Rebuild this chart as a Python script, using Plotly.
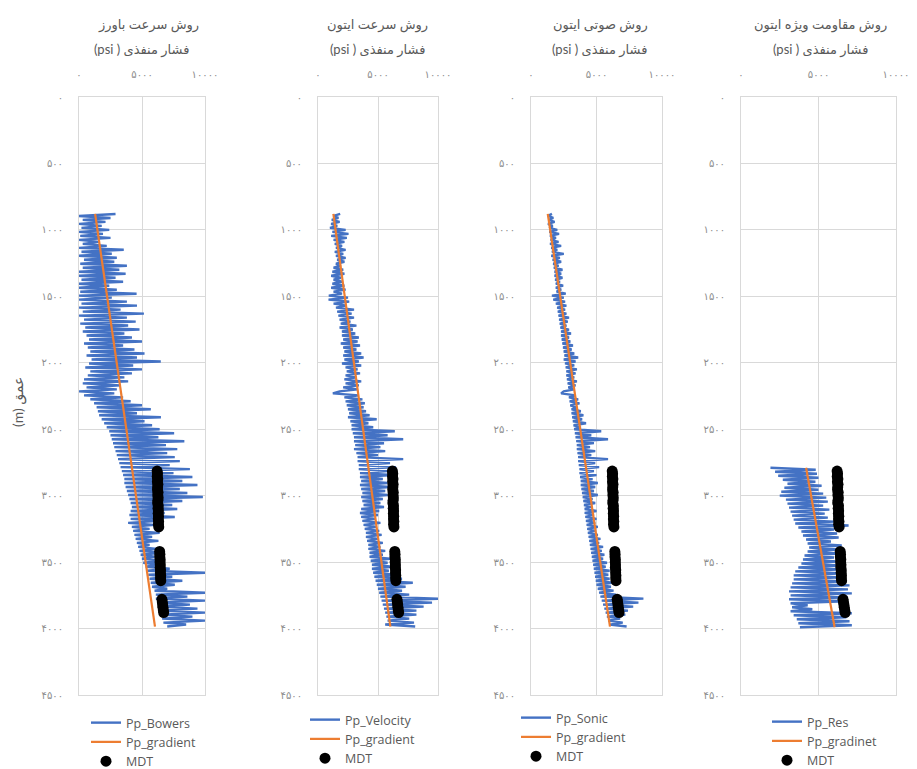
import plotly.graph_objects as go

# ---- depth sampling of the computed pore-pressure logs (m) ----
depth_log = [
    880, 895, 910, 925, 940, 955, 970, 985, 1000, 1015,
    1030, 1045, 1060, 1075, 1090, 1105, 1120, 1135, 1150, 1165,
    1180, 1195, 1210, 1225, 1240, 1255, 1270, 1285, 1300, 1315,
    1330, 1345, 1360, 1375, 1390, 1405, 1420, 1435, 1450, 1465,
    1480, 1495, 1510, 1525, 1540, 1555, 1570, 1585, 1600, 1615,
    1630, 1645, 1660, 1675, 1690, 1705, 1720, 1735, 1750, 1765,
    1780, 1795, 1810, 1825, 1840, 1855, 1870, 1885, 1900, 1915,
    1930, 1945, 1960, 1975, 1990, 2005, 2020, 2035, 2050, 2065,
    2080, 2095, 2110, 2125, 2140, 2155, 2170, 2185, 2200, 2215,
    2230, 2245, 2260, 2275, 2290, 2305, 2320, 2335, 2350, 2365,
    2380, 2395, 2410, 2425, 2440, 2455, 2470, 2485, 2500, 2515,
    2530, 2545, 2560, 2575, 2590, 2605, 2620, 2635, 2650, 2665,
    2680, 2695, 2710, 2725, 2740, 2755, 2770, 2785, 2800, 2815,
    2830, 2845, 2860, 2875, 2890, 2905, 2920, 2935, 2950, 2965,
    2980, 2995, 3010, 3025, 3040, 3055, 3070, 3085, 3100, 3115,
    3130, 3145, 3160, 3175, 3190, 3205, 3220, 3235, 3250, 3265,
    3280, 3295, 3310, 3325, 3340, 3355, 3370, 3385, 3400, 3415,
    3430, 3445, 3460, 3475, 3490, 3505, 3520, 3535, 3550, 3565,
    3580, 3595, 3610, 3625, 3640, 3655, 3670, 3685, 3700, 3715,
    3730, 3745, 3760, 3775, 3790, 3805, 3820, 3835, 3850, 3865,
    3880, 3895, 3910, 3925, 3940, 3955, 3970, 3985,
]

# ---- pore pressure (psi), Bowers velocity method ----
pp_bowers = [
    2900, 0, 2500, 300, 2100, 0, 1800, 200, 2400, 0,
    1900, 100, 2500, 0, 1600, 300, 2200, 0, 3550, 200,
    2600, 0, 3000, 400, 2800, 100, 3800, 300, 3200, 0,
    3700, 0, 2900, 200, 3500, 0, 2400, 0, 3000, 100,
    4570, 0, 2600, 0, 3800, 200, 4600, 0, 3300, 300,
    5150, 0, 3800, 400, 4500, 100, 3900, 500, 4800, 300,
    3600, 600, 4200, 800, 5000, 400, 3500, 700, 4400, 900,
    5200, 600, 4600, 1000, 6490, 800, 4300, 500, 5000, 900,
    4200, 700, 3600, 400, 3900, 300, 3300, 600, 3000, 0,
    2800, 400, 3500, 900, 4100, 1200, 5000, 1400, 5700, 1500,
    4600, 1600, 6500, 1800, 5200, 2000, 5800, 2200, 6400, 2400,
    7550, 2500, 6300, 2600, 8360, 2700, 6900, 2800, 7800, 2900,
    7000, 3000, 7600, 3100, 8000, 3200, 7200, 3300, 8800, 3400,
    7500, 3500, 9000, 3600, 8200, 3600, 9400, 3700, 8000, 3800,
    8600, 3900, 9830, 4000, 8200, 4100, 7400, 4200, 7800, 4100,
    6800, 4000, 7600, 4100, 6400, 3900, 6000, 4200, 5600, 4300,
    6400, 4400, 5800, 4500, 6300, 4600, 5600, 4700, 6200, 4800,
    6500, 4900, 6000, 5000, 6800, 5100, 6300, 5300, 7200, 5400,
    10000, 5500, 7400, 5600, 8200, 5700, 7600, 5800, 7000, 6000,
    10000, 6100, 8600, 6100, 10000, 6200, 8800, 6300, 9400, 6400,
    10000, 6500, 9000, 6600, 10000, 6700, 8500, 7000,
]

# ---- pore pressure (psi), Eaton velocity method ----
pp_velocity = [
    1850, 1300, 1700, 1150, 1800, 1100, 1600, 1000, 2300, 1200,
    2540, 1100, 2400, 1300, 2200, 1400, 2000, 1500, 2300, 1400,
    2100, 1500, 2300, 1600, 2200, 1500, 1900, 1300, 2100, 1200,
    2200, 1100, 1900, 1300, 2000, 1200, 2200, 1100, 2300, 1300,
    2000, 900, 2500, 880, 2600, 1300, 2400, 1500, 3000, 1600,
    2800, 1700, 3000, 1800, 2700, 1900, 3200, 1800, 2900, 2000,
    3100, 2000, 3400, 2100, 3300, 1900, 3500, 2100, 3200, 2200,
    3600, 2100, 3800, 2200, 3400, 2000, 3600, 2300, 3300, 2400,
    3500, 2300, 3200, 2200, 3600, 2300, 3400, 2100, 3300, 1800,
    1240, 3400, 2200, 3700, 2300, 3900, 2400, 3800, 2500, 4000,
    2600, 4300, 2500, 4890, 2700, 4200, 2800, 4600, 2800, 6400,
    2900, 5800, 3000, 7100, 3000, 5500, 3100, 5200, 3000, 5600,
    3200, 5000, 3300, 7100, 3300, 6000, 3400, 6500, 3400, 5800,
    3500, 6200, 3500, 5400, 3600, 5800, 3500, 6000, 3600, 5600,
    3700, 5800, 3600, 5400, 3700, 5200, 3800, 5500, 3600, 5100,
    3500, 5000, 3600, 4800, 3700, 5200, 3800, 4900, 3900, 5100,
    4000, 5300, 4000, 5000, 4100, 5400, 4200, 5200, 4200, 5600,
    4300, 5400, 4300, 6000, 4400, 5800, 4500, 6200, 4500, 5900,
    4600, 6500, 4700, 7000, 4800, 7900, 4900, 7300, 5000, 7000,
    5100, 7600, 5200, 10100, 5300, 9500, 5400, 8800, 5500, 8200,
    5600, 8200, 5700, 7600, 5800, 8000, 5600, 8100,
]

# ---- pore pressure (psi), Eaton sonic method ----
pp_sonic = [
    1600, 1290, 1700, 1350, 1800, 1300, 1650, 1400, 2000, 1400,
    2140, 1450, 1900, 1500, 2100, 1450, 2300, 1550, 2000, 1600,
    2500, 1550, 2200, 1650, 2300, 1700, 2100, 1750, 2400, 1800,
    2300, 1800, 2400, 1850, 2200, 1900, 2450, 1900, 2300, 1950,
    2650, 1600, 2500, 1700, 2600, 1900, 2700, 2000, 2600, 2050,
    2700, 2100, 2900, 2150, 2800, 2200, 2700, 2250, 2900, 2300,
    3050, 2300, 2900, 2350, 3000, 2400, 3200, 2450, 3100, 2500,
    3300, 2550, 3600, 2500, 3400, 2600, 3300, 2650, 3500, 2700,
    3400, 2700, 3300, 2750, 3500, 2800, 3400, 2850, 3300, 2500,
    2300, 3400, 2900, 3600, 2950, 3700, 3000, 3500, 3100, 3800,
    3100, 4000, 3150, 3900, 3200, 4200, 3250, 3800, 3300, 5360,
    3350, 4600, 3400, 5880, 3450, 4800, 3500, 4500, 3500, 4900,
    3550, 4600, 3600, 5880, 3600, 4900, 3650, 5200, 3700, 4800,
    3700, 5000, 3750, 4700, 3800, 5100, 3800, 4900, 3850, 4800,
    3900, 5100, 3950, 4700, 4000, 4900, 4050, 4600, 4100, 5000,
    4100, 4800, 4150, 5000, 4200, 4900, 4250, 5100, 4300, 4900,
    4350, 5100, 4400, 5300, 4450, 5200, 4500, 5500, 4550, 5400,
    4600, 5600, 4650, 5500, 4700, 5800, 4750, 5700, 4800, 6000,
    4850, 5900, 4900, 6000, 4950, 6200, 5000, 6100, 5100, 6300,
    5200, 6500, 5300, 8580, 5400, 8200, 5500, 7800, 5600, 7400,
    5700, 7200, 5800, 6800, 5900, 7000, 6000, 7300,
]

# ---- resistivity log interval (m) and Eaton resistivity pore pressure (psi) ----
depth_res = [
    2790, 2805, 2820, 2835, 2850, 2865, 2880, 2895, 2910, 2925,
    2940, 2955, 2970, 2985, 3000, 3015, 3030, 3045, 3060, 3075,
    3090, 3105, 3120, 3135, 3150, 3165, 3180, 3195, 3210, 3225,
    3240, 3255, 3270, 3285, 3300, 3315, 3330, 3345, 3360, 3375,
    3390, 3405, 3420, 3435, 3450, 3465, 3480, 3495, 3510, 3525,
    3540, 3555, 3570, 3585, 3600, 3615, 3630, 3645, 3660, 3675,
    3690, 3705, 3720, 3735, 3750, 3765, 3780, 3795, 3810, 3825,
    3840, 3855, 3870, 3885, 3900, 3915, 3930, 3945, 3960, 3975,
    3990,
]
pp_res = [
    1900, 4820, 2200, 4900, 2400, 5000, 2700, 4800, 3000, 5200,
    2800, 5000, 2600, 5300, 2500, 5500, 2900, 5600, 3000, 5300,
    3100, 5700, 3200, 5400, 3300, 5600, 3400, 6000, 3500, 6940,
    3700, 6000, 3900, 6200, 4000, 6300, 4200, 5800, 4300, 6500,
    4400, 6200, 4300, 6300, 4100, 6000, 4000, 6200, 3900, 6300,
    3700, 6600, 3500, 6700, 3400, 6500, 3400, 6800, 3300, 7000,
    3200, 6900, 3100, 7150, 3200, 6900, 3100, 6700, 3200, 4300,
    3300, 4600, 3200, 7150, 3400, 6800, 3600, 7000, 3700, 7150,
    3800,
]

# ---- pressure gradient line ----
grad_depth = [880, 3985]
grad_pressure = [1280, 6030]
grad_res_depth = [2790, 3990]
grad_res_pressure = [4200, 6040]

# ---- MDT measured pressures ----
mdt_depth = [
    2815, 2835, 2855, 2875, 2895, 2915, 2935, 2955, 2975, 2995, 3015,
    3035, 3055, 3075, 3095, 3115, 3135, 3155, 3175, 3195, 3215, 3235,
    3420, 3440, 3460, 3480, 3500, 3520, 3540, 3560, 3580, 3600, 3620, 3640,
    3780, 3800, 3820, 3840, 3860, 3880,
]
mdt_pressure = [
    6200, 6230, 6210, 6250, 6220, 6260, 6240, 6230, 6270, 6250, 6280,
    6260, 6240, 6290, 6270, 6300, 6280, 6310, 6290, 6320, 6300, 6330,
    6400, 6420, 6410, 6440, 6430, 6450, 6440, 6470, 6460, 6480, 6470, 6490,
    6580, 6610, 6640, 6660, 6690, 6720,
]

# ---- axis ticks ----
depth_ticks = [0, 500, 1000, 1500, 2000, 2500, 3000, 3500, 4000, 4500]
depth_tick_text = ["۰", "۵۰۰", "۱۰۰۰", "۱۵۰۰", "۲۰۰۰", "۲۵۰۰", "۳۰۰۰", "۳۵۰۰", "۴۰۰۰", "۴۵۰۰"]
pressure_ticks = [0, 5000, 10000]
pressure_tick_text = ["۰", "۵۰۰۰", "۱۰۰۰۰"]

# ---- panel titles and legend names ----
panel_titles = ["روش سرعت باورز", "روش سرعت ایتون", "روش صوتی ایتون", "روش مقاومت ویژه ایتون"]
axis_caption = "(psi ) فشار منفذی"
log_names = ["Pp_Bowers", "Pp_Velocity", "Pp_Sonic", "Pp_Res"]
grad_names = ["Pp_gradient", "Pp_gradient", "Pp_gradient", "Pp_gradinet"]

BLUE = "#4472C4"
ORANGE = "#ED7D31"
GRID = "#D9D9D9"
TEXT = "#595959"
TICK = "#8C8C8C"

W, H = 917, 769
# plot boxes in pixels: (left, right)
boxes = [(79, 205), (318, 438), (531, 662), (741, 896)]
box_top, box_bottom = 97, 695
title_x = [(148, 141), (377, 377), (600, 599), (820, 820)]
legend_pos = [(86, 708), (305, 705), (516, 703), (767, 707)]

logs = [
    (depth_log, pp_bowers),
    (depth_log, pp_velocity),
    (depth_log, pp_sonic),
    (depth_res, pp_res),
]
grads = [
    (grad_depth, grad_pressure),
    (grad_depth, grad_pressure),
    (grad_depth, grad_pressure),
    (grad_res_depth, grad_res_pressure),
]

fig = go.Figure()
layout = dict(
    width=W, height=H,
    margin=dict(l=0, r=0, t=0, b=0, autoexpand=False),
    paper_bgcolor="white", plot_bgcolor="white",
    font=dict(family="Lato, 'DejaVu Sans', sans-serif", color=TEXT, size=12),
    annotations=[],
)

for i in range(4):
    n = "" if i == 0 else str(i + 1)
    xa, ya, lg = "x" + n, "y" + n, "legend" + n
    dep, val = logs[i]
    gd, gp = grads[i]
    fig.add_trace(go.Scatter(
        x=val, y=dep, mode="lines", name=log_names[i],
        line=dict(color=BLUE, width=2.4), xaxis=xa, yaxis=ya, legend=lg,
    ))
    fig.add_trace(go.Scatter(
        x=gp, y=gd, mode="lines", name=grad_names[i],
        line=dict(color=ORANGE, width=2.2), xaxis=xa, yaxis=ya, legend=lg,
    ))
    fig.add_trace(go.Scatter(
        x=mdt_pressure, y=mdt_depth, mode="markers", name="MDT",
        marker=dict(color="black", size=11), xaxis=xa, yaxis=ya, legend=lg,
    ))

    left, right = boxes[i]
    layout["xaxis" + n] = dict(
        domain=[left / W, right / W], range=[0, 10000], side="top",
        anchor=ya, tickvals=pressure_ticks, ticktext=pressure_tick_text,
        showgrid=True, gridcolor=GRID, gridwidth=1, zeroline=False,
        showline=True, mirror=True, linecolor=GRID, linewidth=1,
        ticks="outside", ticklen=14, tickcolor="rgba(0,0,0,0)",
        tickfont=dict(size=10, color=TICK),
    )
    layout["yaxis" + n] = dict(
        domain=[1 - box_bottom / H, 1 - box_top / H], range=[4500, 0],
        anchor=xa, tickvals=depth_ticks, ticktext=depth_tick_text,
        showgrid=True, gridcolor=GRID, gridwidth=1, zeroline=False,
        showline=True, mirror=True, linecolor=GRID, linewidth=1,
        ticks="outside", ticklen=13, tickcolor="rgba(0,0,0,0)",
        tickfont=dict(size=10, color=TICK),
    )
    lx, ly = legend_pos[i]
    layout[lg] = dict(
        x=lx / W, y=1 - ly / H, xanchor="left", yanchor="top",
        bgcolor="rgba(0,0,0,0)",
        font=dict(family="'Open Sans', sans-serif", size=12.5, color=TEXT),
        tracegroupgap=0, itemwidth=30,
    )
    t1x, t2x = title_x[i]
    layout["annotations"].append(dict(
        text=panel_titles[i], x=t1x / W, y=1 - 24 / H, xref="paper", yref="paper",
        showarrow=False, xanchor="center", yanchor="middle",
        font=dict(size=13, color=TEXT),
    ))
    layout["annotations"].append(dict(
        text=axis_caption, x=t2x / W, y=1 - 49 / H, xref="paper", yref="paper",
        showarrow=False, xanchor="center", yanchor="middle",
        font=dict(size=13, color=TEXT),
    ))

layout["annotations"].append(dict(
    text="(m) عمق", x=18 / W, y=1 - 402 / H, xref="paper", yref="paper",
    showarrow=False, textangle=-90, xanchor="center", yanchor="middle",
    font=dict(size=14, color=TEXT),
))

fig.update_layout(**layout)
fig.write_html("out.html")
